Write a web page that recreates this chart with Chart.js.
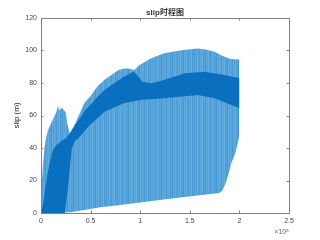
<!DOCTYPE html>
<html>
<head>
<meta charset="utf-8">
<script src="https://cdn.jsdelivr.net/npm/chart.js@4"></script>
<style>
  html, body { margin: 0; padding: 0; background: #fff; }
  #c { display: block; }
</style>
</head>
<body>
<canvas id="c" width="320" height="240"></canvas>
<script>
// envelopes (x in samples, y in m)
const lightTopX = [0, 1000, 2000, 3500, 5000, 7000, 10000, 13000, 15500, 17000, 18500, 20500, 22000, 23500, 25000, 26500, 29000, 33000, 38000, 44000, 50000, 57000, 64000, 71000, 78000, 84000, 88000, 94000, 99000, 110000, 124000, 140000, 150000, 158000, 166000, 175000, 182000, 191000, 200000];
const lightTopY = [0, 20, 30, 40, 46, 51, 55, 59, 62, 66, 63, 65, 64, 63, 62, 55, 49, 53, 60, 68, 72, 78, 82, 85, 88, 89, 89, 88, 91, 95, 98.3, 100, 100.8, 101.3, 100.6, 99.3, 97, 94.8, 94.5];

const lightBotX = [0, 30000, 45000, 60000, 80000, 100000, 120000, 140000, 160000, 180000, 183000, 186000, 189000, 192000, 196000, 199000, 200000];
const lightBotY = [0, 0.5, 2, 3.5, 5, 6.5, 8, 9.5, 11, 12.3, 14, 18, 24, 31, 37, 45, 48];

const darkTopX = [0, 2000, 4000, 6000, 8000, 10000, 12000, 15000, 20000, 25000, 29000, 34000, 39000, 44000, 49000, 56000, 64000, 74000, 84000, 90000, 94000, 98000, 102000, 111000, 124000, 145000, 165000, 185000, 200000];
const darkTopY = [0, 5, 14, 22, 29, 34, 38.5, 41.5, 44, 46, 49, 54, 58, 63, 66, 71, 75.7, 80, 84, 86, 87, 84, 80.8, 79.8, 81.8, 86, 87, 85, 82.9];

const darkBotX = [0, 24000, 28000, 31000, 34000, 39000, 49000, 64000, 84000, 100000, 124000, 158000, 175000, 192000, 200000];
const darkBotY = [0, 0, 20, 40, 44, 47, 54, 62.3, 67.7, 69.5, 70.6, 72.6, 70.6, 66.5, 64.4];

const xTicks = [0, 50000, 100000, 150000, 200000, 250000];
const yTicks = [0, 20, 40, 60, 80, 100, 120];

const FONT = '"Liberation Sans", Arial, "Noto Sans CJK SC", sans-serif';
const AXIS = '#808080';

function pts(xs, ys) {
    return xs.map((x, i) => ({ x: x, y: ys[i] }));
}

// faint vertical streaks like the dense oscillation in the original
function stripePattern() {
    const shades = ['rgb(86,163,218)', 'rgb(74,154,212)', 'rgb(92,167,220)', 'rgb(86,163,218)',
                    'rgb(100,173,223)', 'rgb(78,157,214)', 'rgb(86,163,218)', 'rgb(70,151,210)',
                    'rgb(94,169,221)', 'rgb(84,161,217)', 'rgb(98,171,222)'];
    const cv = document.createElement('canvas');
    cv.width = shades.length; cv.height = 4;
    const g = cv.getContext('2d');
    shades.forEach((c, i) => { g.fillStyle = c; g.fillRect(i, 0, 1, 4); });
    return g.createPattern(cv, 'repeat');
}

const inwardTicks = {
    id: 'inwardTicks',
    afterDatasetsDraw(chart) {
        const { ctx, chartArea: a, scales: { x, y } } = chart;
        ctx.save();
        ctx.strokeStyle = AXIS;
        ctx.lineWidth = 1;
        ctx.beginPath();
        xTicks.forEach(v => {
            const px = Math.round(x.getPixelForValue(v)) + 0.5;
            ctx.moveTo(px, a.bottom); ctx.lineTo(px, a.bottom - 2.5);
            ctx.moveTo(px, a.top); ctx.lineTo(px, a.top + 2.5);
        });
        yTicks.forEach(v => {
            const py = Math.round(y.getPixelForValue(v)) + 0.5;
            ctx.moveTo(a.left, py); ctx.lineTo(a.left + 2.5, py);
            ctx.moveTo(a.right, py); ctx.lineTo(a.right - 2.5, py);
        });
        ctx.stroke();
        ctx.restore();
    }
};

const light = stripePattern();
const dark = 'rgb(10,111,191)';

const base = { showLine: true, pointRadius: 0, borderWidth: 0, tension: 0 };

new Chart(document.getElementById('c'), {
    type: 'scatter',
    data: {
        datasets: [
            { ...base, label: 'band top', data: pts(darkTopX, darkTopY), fill: '+1', backgroundColor: dark, borderColor: dark },
            { ...base, label: 'band bottom', data: pts(darkBotX, darkBotY), fill: false, borderColor: dark },
            { ...base, label: 'slip max', data: pts(lightTopX, lightTopY), fill: '+1', backgroundColor: light, borderColor: light },
            { ...base, label: 'slip min', data: pts(lightBotX, lightBotY), fill: false, borderColor: light }
        ]
    },
    options: {
        responsive: false,
        animation: false,
        layout: { padding: 0 },
        plugins: { legend: { display: false }, tooltip: { enabled: false }, title: { display: false } },
        scales: {
            x: {
                type: 'linear', position: 'bottom', min: 0, max: 250000,
                afterFit: s => { s.height = 27; },
                afterBuildTicks: s => { s.ticks = xTicks.map(v => ({ value: v })); },
                grid: { display: false, drawTicks: false },
                border: { display: true, color: AXIS, width: 1 },
                ticks: { padding: 4, maxRotation: 0, color: '#444', font: { family: FONT, size: 7 },
                         callback: v => String(v / 100000) },
                title: { display: true, text: '×10⁵', align: 'end', color: '#666',
                         font: { family: FONT, size: 7 }, padding: { top: 0, bottom: 4 } }
            },
            x2: {
                type: 'linear', position: 'top', min: 0, max: 250000,
                afterFit: s => { s.height = 18; },
                grid: { display: false, drawTicks: false },
                border: { display: true, color: AXIS, width: 1 },
                ticks: { display: false },
                title: { display: true, text: 'slip时程图', color: '#333',
                         font: { family: FONT, size: 8, weight: 'bold' }, padding: { top: 7.5, bottom: 0 } }
            },
            y: {
                type: 'linear', position: 'left', min: 0, max: 120,
                afterFit: s => { s.width = 41; },
                afterBuildTicks: s => { s.ticks = yTicks.map(v => ({ value: v })); },
                grid: { display: false, drawTicks: false },
                border: { display: true, color: AXIS, width: 1 },
                ticks: { padding: 4, color: '#444', font: { family: FONT, size: 7 } },
                title: { display: true, text: 'slip (m)', color: '#222',
                         font: { family: FONT, size: 8 }, padding: { top: 12, bottom: 0 } }
            },
            y2: {
                type: 'linear', position: 'right', min: 0, max: 120,
                afterFit: s => { s.width = 31; },
                grid: { display: false, drawTicks: false },
                border: { display: true, color: AXIS, width: 1 },
                ticks: { display: false }
            }
        }
    },
    plugins: [inwardTicks]
});
</script>
</body>
</html>
